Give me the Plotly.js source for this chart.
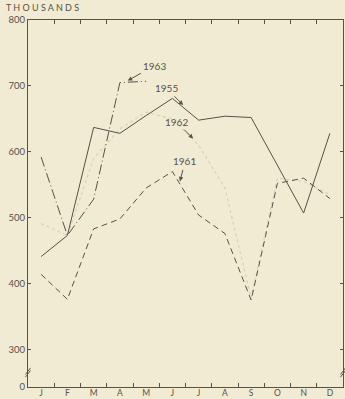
<!DOCTYPE html>
<html>
<head>
<meta charset="utf-8">
<script src="https://cdn.plot.ly/plotly-3.0.1.min.js"></script>
<style>
html,body{margin:0;padding:0;background:#f1ebd3;}
#chart{width:345px;height:399px;}
</style>
</head>
<body>
<div id="chart"></div>
<script>
// Month labels
const months = ['J','F','M','A','M','J','J','A','S','O','N','D'];
// Series values (thousands)
const y1955 = [441, 473, 637, 628, 655, 681, 648, 654, 652, 580, 507, 628];
const y1961 = [414, 376, 483, 498, 545, 570, 504, 476, 375, 552, 560, 529];
const y1962 = [491, 473, 590, 635, 660, 650, 610, 545, 378, 560, 555, 535];
const y1963 = [592, 473, 528, 705, 707];
// Y tick labels (broken axis: bottom labelled 0)
const yTickVals = [243, 300, 400, 500, 600, 700, 800];
const yTickText = ['0', '300', '400', '500', '600', '700', '800'];

const xIdx = months.map((m, i) => i);
const ink = '#555249';
const fontFam = 'Lato, "DejaVu Sans", sans-serif';

const traces = [
  {x: xIdx, y: y1962, mode: 'lines', name: '1962',
   line: {color: 'rgba(110,105,90,0.2)', width: 1.2, dash: 'dot'}},
  {x: xIdx, y: y1955, mode: 'lines', name: '1955',
   line: {color: ink, width: 1}},
  {x: xIdx, y: y1961, mode: 'lines', name: '1961',
   line: {color: ink, width: 1, dash: '6px,4px'}},
  {x: xIdx.slice(0, y1963.length), y: y1963, mode: 'lines', name: '1963',
   line: {color: ink, width: 1, dash: '10px,3px,1px,3px'}}
];
// invisible trace on xaxis2 so its boundary ticks render
traces.push({x: [0], y: [500], xaxis: 'x2', mode: 'markers', marker: {opacity: 0}, hoverinfo: 'skip', showlegend: false});

const ann = (text, x, y, ax, ay) => ({
  text: text, x: x, y: y, xref: 'x', yref: 'y', ax: ax, ay: ay,
  showarrow: true, arrowhead: 2, arrowsize: 0.9, arrowwidth: 1, arrowcolor: ink,
  standoff: 0, startstandoff: 1,
  font: {family: fontFam, size: 10, color: ink}
});

const layout = {
  width: 345, height: 399,
  margin: {l: 28, r: 2, t: 20, b: 12},
  paper_bgcolor: '#f1ebd3', plot_bgcolor: '#f1ebd3',
  showlegend: false,
  font: {family: fontFam, size: 9, color: ink},
  xaxis: {
    range: [-0.5, 11.5], tickmode: 'array', tickvals: xIdx, ticktext: months,
    ticks: '', showgrid: false, zeroline: false, showline: true, linecolor: ink, linewidth: 1,
    mirror: true, tickfont: {family: fontFam, size: 8.5, color: ink}, ticklabelstandoff: -2
  },
  xaxis2: {
    overlaying: 'x', side: 'bottom', range: [-0.5, 11.5], matches: 'x',
    tickmode: 'array', tickvals: xIdx.slice(1).map(i => i - 0.5),
    ticks: 'inside', ticklen: 4, tickcolor: ink, showticklabels: false,
    showgrid: false, zeroline: false, showline: false, mirror: 'ticks'
  },
  yaxis: {
    range: [243, 800], tickmode: 'array', tickvals: yTickVals, ticktext: yTickText,
    ticks: 'inside', ticklen: 3, tickcolor: ink, showgrid: false, zeroline: false,
    showline: true, linecolor: ink, linewidth: 1, mirror: 'ticks',
    tickfont: {family: fontFam, size: 9.5, color: ink}
  },
  annotations: [
    ann('1963', 3.3, 708, 27, -15),
    ann('1955', 5.41, 671, -17, -17),
    ann('1962', 5.79, 620, -17, -17),
    ann('1961', 5.29, 555, 5, -20),
    {text: 'T H O U S A N D S', xref: 'paper', yref: 'paper', x: -0.075, y: 1.0, yshift: 13,
     xanchor: 'left', yanchor: 'middle', showarrow: false,
     font: {family: fontFam, size: 9, color: ink}}
  ],
  shapes: [
    {type: 'line', xref: 'paper', yref: 'y', x0: -0.008, x1: 0.008, y0: 262, y1: 272, line: {color: ink, width: 1}},
    {type: 'line', xref: 'paper', yref: 'y', x0: -0.008, x1: 0.008, y0: 258, y1: 268, line: {color: ink, width: 1}},
    {type: 'line', xref: 'paper', yref: 'y', x0: 0.992, x1: 1.008, y0: 262, y1: 272, line: {color: ink, width: 1}},
    {type: 'line', xref: 'paper', yref: 'y', x0: 0.992, x1: 1.008, y0: 258, y1: 268, line: {color: ink, width: 1}}
  ]
};

Plotly.newPlot('chart', traces, layout, {displayModeBar: false, staticPlot: true});
</script>
</body>
</html>
